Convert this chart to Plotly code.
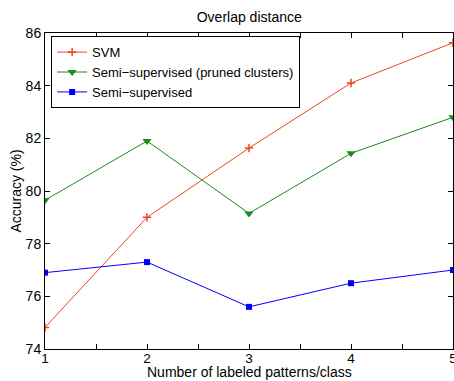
import plotly.graph_objects as go

x_vals = [1, 2, 3, 4, 5]
svm = [74.82, 79.0, 81.63, 84.1, 85.63]
semi_pruned = [79.65, 81.9, 79.15, 81.43, 82.8]
semi = [76.9, 77.3, 75.6, 76.5, 77.0]

x_tickvals = [1, 1.5, 2, 2.5, 3, 3.5, 4, 4.5, 5]
x_ticktext = ["1", "", "2", "", "3", "", "4", "", "5"]
y_tickvals = [74, 76, 78, 80, 82, 84, 86]

fig = go.Figure()
fig.add_trace(go.Scatter(x=x_vals, y=svm, mode="lines+markers", name="SVM",
                         line=dict(color="#f0441f", width=1),
                         marker=dict(symbol="cross-thin", size=6,
                                     line=dict(color="#f0441f", width=1.5))))
fig.add_trace(go.Scatter(x=x_vals, y=semi_pruned, mode="lines+markers",
                         name="Semi\u2212supervised (pruned clusters)",
                         line=dict(color="#1a8a1a", width=1),
                         marker=dict(symbol="triangle-down", size=8, color="#1a8a1a")))
fig.add_trace(go.Scatter(x=x_vals, y=semi, mode="lines+markers",
                         name="Semi\u2212supervised",
                         line=dict(color="#0000ff", width=1),
                         marker=dict(symbol="square", size=6, color="#0000ff")))

font_family = "Liberation Sans, Arial, sans-serif"
fig.update_layout(
    width=454, height=381,
    margin=dict(l=45, r=1, t=33, b=32, autoexpand=False),
    paper_bgcolor="white", plot_bgcolor="white",
    font=dict(family=font_family, size=14, color="black"),
    title=dict(text="Overlap distance", x=0.549, xanchor="center", y=0.955, yanchor="middle",
               font=dict(size=14)),
    showlegend=True,
    legend=dict(x=0.015, y=0.99, xanchor="left", yanchor="top",
                bgcolor="white", bordercolor="black", borderwidth=1,
                font=dict(size=13), tracegroupgap=0, itemwidth=30),
    xaxis=dict(range=[1, 5], tickvals=x_tickvals, ticktext=x_ticktext,
               ticks="inside", ticklen=5, tickcolor="black", showgrid=False,
               zeroline=False, showline=True, linecolor="black", linewidth=1,
               mirror="ticks", automargin=False, ticklabeloverflow="allow",
               ticklabelstandoff=-3, tickfont=dict(size=13.5)),
    yaxis=dict(range=[74, 86], tickvals=y_tickvals,
               ticks="inside", ticklen=5, tickcolor="black", showgrid=False,
               zeroline=False, showline=True, linecolor="black", linewidth=1,
               mirror="ticks", automargin=False, tickfont=dict(size=14),
               title=dict(text="Accuracy (%)", standoff=0, font=dict(size=14))),
    annotations=[dict(text="Number of labeled patterns/class", xref="paper", yref="paper",
                      x=0.5, y=-0.1013, xanchor="center", yanchor="bottom",
                      showarrow=False, font=dict(size=14), borderpad=0)],
)

fig.write_html("out.html", config={"displayModeBar": False},
               post_script="document.body.style.margin='0';document.body.style.overflow='hidden';")
